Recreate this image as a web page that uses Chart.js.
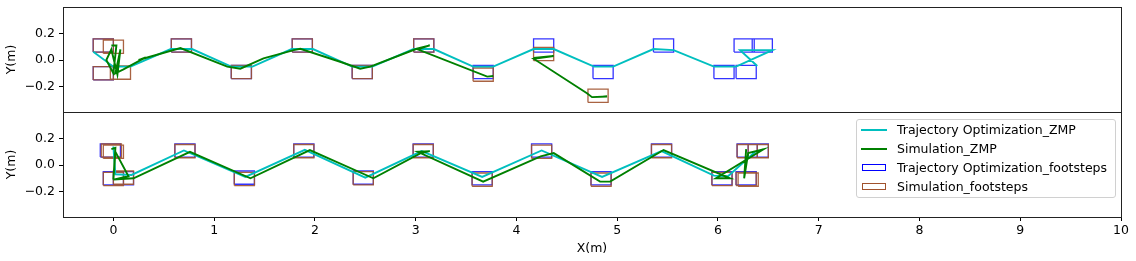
<!DOCTYPE html>
<html>
<head>
<meta charset="utf-8">
<script src="https://cdn.jsdelivr.net/npm/chart.js@4/dist/chart.umd.min.js"></script>
<style>
body{margin:0;background:#fff;font-family:"DejaVu Sans",sans-serif}
#wrap{position:relative;width:1136px;height:261px}
#legend{position:absolute;left:856px;top:119px;width:258px;height:77px;border:1px solid #d0d0d0;border-radius:3px;background:rgba(255,255,255,.85);font-size:12.5px;color:#000}
#legend .row{position:absolute;left:0;height:19px;line-height:19px;white-space:nowrap}
#legend .sw{position:absolute;left:4px;top:9px;width:26px;height:2px}
#legend .box{position:absolute;left:5px;top:6px;width:22px;height:5px;border:1.3px solid}
#legend .tx{position:absolute;left:40px;top:0}
</style>
</head>
<body>
<div id="wrap">
  <canvas id="zmpChart" width="1136" height="261"></canvas>
  <div id="legend">
    <div class="row" style="top:0"><span class="sw" style="background:#00bfbf"></span><span class="tx">Trajectory Optimization_ZMP</span></div>
    <div class="row" style="top:19px"><span class="sw" style="background:#008000"></span><span class="tx">Simulation_ZMP</span></div>
    <div class="row" style="top:38px"><span class="box" style="border-color:#0000ff"></span><span class="tx">Trajectory Optimization_footsteps</span></div>
    <div class="row" style="top:57px"><span class="box" style="border-color:#a0522d"></span><span class="tx">Simulation_footsteps</span></div>
  </div>
</div>
<script>
// tick labels
const X_TICKS = [0,1,2,3,4,5,6,7,8,9,10]
const X_TICK_LABELS = ['0','1','2','3','4','5','6','7','8','9','10']
const Y_TICKS = [-0.2,0,0.2]
const Y_TICK_LABELS = ['\u22120.2','0.0','0.2']

// foot size (m)
const FOOT_LEN = 0.2
const FOOT_WID = 0.1

// --- top plot (simulation falls) ---
const topPlanSteps = [[-0.1,0.11],[-0.1,-0.1],[0.675,0.11],[1.27,-0.09],[1.875,0.11],[2.47,-0.09],[3.08,0.11],[3.67,-0.09],[4.27,0.11],[4.86,-0.09],[5.46,0.11],[6.06,-0.09],[6.26,0.11],[6.28,-0.09],[6.44,0.11]]
const topSimSteps = [[-0.1,0.11],[0.0,0.1],[-0.1,-0.1],[0.07,-0.095],[0.675,0.11],[1.27,-0.09],[1.875,0.11],[2.47,-0.09],[3.08,0.11],[3.67,-0.11],[4.27,0.045],[4.81,-0.27]]
const topPlanZmp = [[-0.2,0.063],[0.0,-0.05],[0.17,-0.05],[0.57,0.083],[0.78,0.083],[1.17,-0.05],[1.38,-0.05],[1.77,0.083],[1.98,0.083],[2.37,-0.05],[2.57,-0.05],[2.98,0.083],[3.18,0.083],[3.57,-0.05],[3.77,-0.05],[4.17,0.083],[4.37,0.083],[4.77,-0.05],[4.96,-0.05],[5.36,0.083],[5.56,0.075],[5.96,-0.05],[6.18,-0.05],[6.54,0.075],[6.22,0.075],[6.39,-0.045]]
const topSimZmp = [[-0.02,0.11],[0.03,0.11],[0.0,-0.1],[-0.07,0.0],[-0.02,0.08],[0.04,-0.11],[0.07,0.08],[0.02,-0.1],[0.1,-0.07],[0.32,0.02],[0.25,0.0],[0.665,0.09],[1.13,-0.05],[1.26,-0.065],[1.49,0.013],[1.79,0.075],[1.855,0.085],[2.25,-0.013],[2.45,-0.065],[2.55,-0.05],[3.01,0.085],[3.14,0.11],[3.02,0.08],[3.71,-0.125],[3.77,-0.12],null,[4.17,0.015],[4.37,0.03],[4.17,0.01],[4.7,-0.25],[4.75,-0.28],[4.9,-0.275],[4.76,-0.28]]

// --- bottom plot ---
const botPlanSteps = [[-0.03,0.11],[0.0,-0.1],[0.1,-0.1],[0.71,0.11],[1.3,-0.095],[1.89,0.11],[2.48,-0.095],[3.075,0.11],[3.66,-0.1],[4.25,0.11],[4.84,-0.1],[5.44,0.11],[6.04,-0.1],[6.29,0.11],[6.4,0.11],[6.28,-0.1]]
const botSimSteps = [[-0.02,0.11],[0.0,0.1],[0.0,-0.105],[0.1,-0.095],[0.71,0.105],[1.3,-0.105],[1.89,0.105],[2.48,-0.1],[3.075,0.105],[3.66,-0.11],[4.25,0.1],[4.84,-0.11],[5.44,0.105],[6.04,-0.105],[6.29,0.105],[6.4,0.105],[6.28,-0.105],[6.3,-0.11]]
const botPlanZmp = [[0.0,0.14],[0.02,-0.07],[0.18,-0.075],[0.7,0.11],[1.31,-0.09],[1.9,0.115],[2.5,-0.095],[3.06,0.105],[3.66,-0.09],[4.25,0.11],[4.85,-0.09],[5.44,0.105],[5.96,-0.08],[6.1,-0.085],[6.37,0.1]]
const botSimZmp = [[-0.02,0.12],[0.02,0.13],[0.0,-0.11],[0.02,0.1],[0.15,-0.085],[0.0,-0.11],[0.2,-0.1],[0.76,0.1],[1.36,-0.1],[1.95,0.113],[2.58,-0.1],[3.05,0.09],[3.14,0.105],[3.02,0.1],[3.67,-0.125],[4.24,0.065],[4.37,0.09],[4.83,-0.125],[4.93,-0.125],[5.46,0.113],[6.12,-0.1],[5.98,-0.1],[6.45,0.118],[6.3,0.09],[6.26,-0.1],[6.28,0.12]]

const CYAN = '#00bfbf'
const GREEN = '#008000'
const BLUE = 'rgba(0,0,255,0.8)'
const BROWN = 'rgba(160,82,45,0.9)'

const toPts = path => path.map(p => p ? {x:p[0],y:p[1]} : {x:NaN,y:NaN})

function footRects(steps){
  const hx = FOOT_LEN/2, hy = FOOT_WID/2
  const pts = []
  steps.forEach(([cx,cy])=>{
    pts.push({x:cx-hx,y:cy-hy},{x:cx+hx,y:cy-hy},{x:cx+hx,y:cy+hy},{x:cx-hx,y:cy+hy},{x:cx-hx,y:cy-hy},{x:NaN,y:NaN})
  })
  return pts
}

function line(data, color, width, yAxisID){
  return {data, borderColor:color, borderWidth:width, yAxisID, xAxisID:'x',
    pointRadius:0, fill:false, tension:0, spanGaps:false, borderJoinStyle:'miter'}
}

// first dataset is drawn on top
const datasets = [
  line(toPts(topSimZmp), GREEN, 1.9, 'yTop'),
  line(toPts(topPlanZmp), CYAN, 1.9, 'yTop'),
  line(footRects(topSimSteps), BROWN, 1.3, 'yTop'),
  line(footRects(topPlanSteps), BLUE, 1.3, 'yTop'),
  line(toPts(botSimZmp), GREEN, 1.9, 'yBot'),
  line(toPts(botPlanZmp), CYAN, 1.9, 'yBot'),
  line(footRects(botSimSteps), BROWN, 1.3, 'yBot'),
  line(footRects(botPlanSteps), BLUE, 1.3, 'yBot')
]

Chart.defaults.font.family = '"DejaVu Sans", sans-serif'
Chart.defaults.font.size = 12.5
Chart.defaults.color = '#000'

const frames = {
  id:'frames',
  afterDraw(chart){
    const {ctx, chartArea:a, scales} = chart
    ctx.save()
    ctx.strokeStyle = '#222'
    ctx.lineWidth = 1
    ;['yTop','yBot'].forEach(id=>{
      const s = scales[id]
      ctx.strokeRect(Math.round(a.left)+0.5, Math.round(s.top)+0.5, Math.round(a.right-a.left), Math.round(s.bottom-s.top))
    })
    ctx.restore()
  }
}

function yScale(weight){
  return {
    type:'linear', position:'left', stack:'rows', stackWeight:1, weight,
    min:-0.392, max:0.4,
    afterFit:s=>{ s.width = 63; s.paddingTop = 0; s.paddingBottom = 0 },
    afterBuildTicks:s=>{ s.ticks = Y_TICKS.map(v=>({value:v})) },
    ticks:{autoSkip:false, padding:4, callback:(v,i)=>Y_TICK_LABELS[i]},
    grid:{display:true, drawOnChartArea:false, drawTicks:true, tickLength:4, tickColor:'#000', tickWidth:1},
    border:{display:false},
    title:{display:true, text:'Y(m)', padding:{top:4, bottom:0}}
  }
}

new Chart(document.getElementById('zmpChart'),{
  type:'line',
  data:{datasets},
  options:{
    responsive:false,
    animation:false,
    devicePixelRatio:1,
    layout:{padding:{left:0, top:7, right:15, bottom:0}},
    plugins:{legend:{display:false}, tooltip:{enabled:false}},
    scales:{
      x:{
        type:'linear', position:'bottom', min:-0.5, max:10,
        afterFit:s=>{ s.height = 44; s.paddingLeft = 0; s.paddingRight = 0 },
        afterBuildTicks:s=>{ s.ticks = X_TICKS.map(v=>({value:v})) },
        ticks:{autoSkip:false, maxRotation:0, padding:2, callback:(v,i)=>X_TICK_LABELS[i]},
        grid:{display:true, drawOnChartArea:false, drawTicks:true, tickLength:4, tickColor:'#000', tickWidth:1},
        border:{display:false},
        title:{display:true, text:'X(m)', padding:{top:0, bottom:5}}
      },
      yTop:yScale(2),
      yBot:yScale(1)
    }
  },
  plugins:[frames]
})
</script>
</body>
</html>
